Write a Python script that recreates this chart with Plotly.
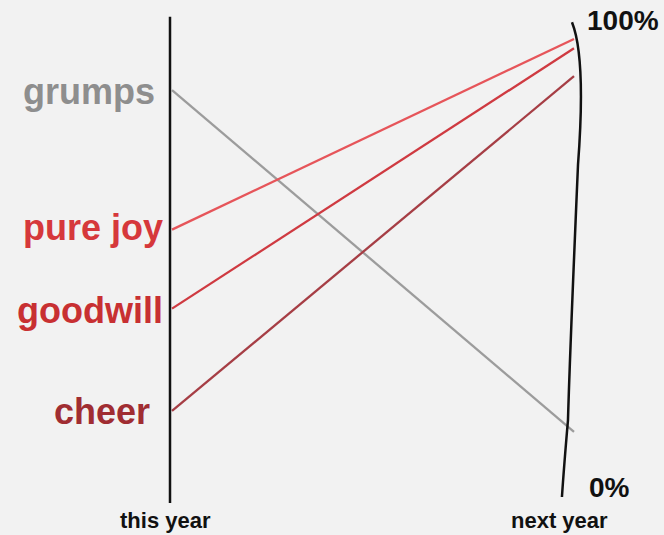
import plotly.graph_objects as go

periods = ["this year", "next year"]
series_names = ["grumps", "pure joy", "goodwill", "cheer"]
this_year = [86, 56, 39, 17]
next_year = [12.5, 97, 95, 89]
line_colors = ["#9c9c9c", "#e6555a", "#cf3a41", "#a63e45"]
label_colors = ["#8e8e8e", "#d6383b", "#c83032", "#a02d32"]
axis_labels = ["100%", "0%"]
axis_values = [101, 0.6]

# label styling (pixel offsets from the left axis)
label_xshift = [-15, -7, -7, -20]
label_yshift = [-1, 2, -2, -1]

fig = go.Figure()
xs = [0, 1]
for name, a, b, lc in zip(series_names, this_year, next_year, line_colors):
    fig.add_trace(go.Scatter(x=xs, y=[a, b], mode="lines", name=name,
                             line=dict(color=lc, width=2.3), hoverinfo="name+y"))

font_fam = "Liberation Sans, Arial, sans-serif"
for name, a, c, xs_, ys_ in zip(series_names, this_year, label_colors, label_xshift, label_yshift):
    fig.add_annotation(x=0, y=a, text=name, showarrow=False, xanchor="right",
                       yanchor="middle", xshift=xs_, yshift=ys_,
                       font=dict(family=font_fam, size=36, color=c, weight="bold"))

# hand-drawn-ish axes
fig.add_shape(type="line", x0=-0.005, x1=-0.005, y0=-2.8, y1=101.8,
              line=dict(color="#111", width=2.5))
fig.add_shape(type="path",
              path="M 0.995 100.6 Q 1.03 93 1.01 70 Q 0.99 30 0.985 15 Q 0.975 5 0.97 -1.5",
              line=dict(color="#111", width=2.5))

fig.add_annotation(x=1, y=axis_values[0], text=axis_labels[0], showarrow=False,
                   xanchor="left", yanchor="middle", xshift=11,
                   font=dict(family=font_fam, size=28, color="#111", weight="bold"))
fig.add_annotation(x=1, y=axis_values[1], text=axis_labels[1], showarrow=False,
                   xanchor="left", yanchor="middle", xshift=13,
                   font=dict(family=font_fam, size=28, color="#111", weight="bold"))

for xv, p in zip([-0.015, 0.963], periods):
    fig.add_annotation(x=xv, y=-6.5, text=p, showarrow=False, xanchor="center",
                       yanchor="middle",
                       font=dict(family=font_fam, size=22, color="#111", weight="bold"))

fig.update_layout(
    width=664, height=535,
    margin=dict(l=0, r=0, t=0, b=0),
    paper_bgcolor="#f2f2f2", plot_bgcolor="#f2f2f2",
    showlegend=False,
    xaxis=dict(range=[-0.4279, 1.2239], visible=False, fixedrange=True),
    yaxis=dict(range=[-9.68, 105.38], visible=False, fixedrange=True),
)

fig.write_html("out.html", config={"displayModeBar": False},
               post_script="document.body.style.margin='0';document.body.style.background='#f2f2f2';")
